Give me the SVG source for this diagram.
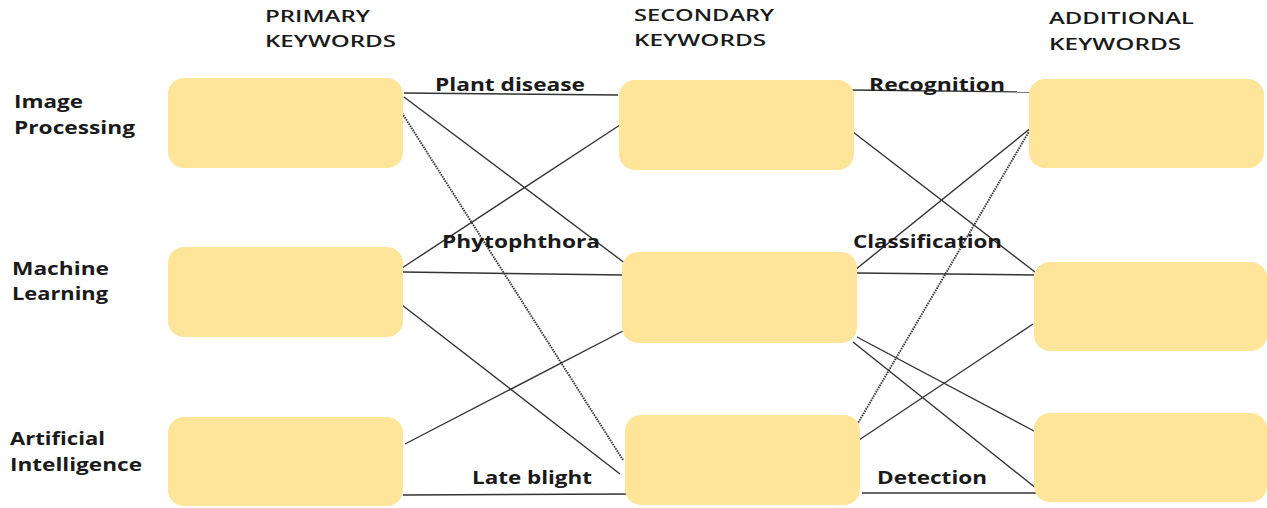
<svg xmlns="http://www.w3.org/2000/svg" width="1267" height="508" viewBox="0 0 1267 508">
<style>
.box{fill:#FFE599;stroke:none}
.ln{stroke:#333333;stroke-width:1.4;fill:none}
.dot{stroke:#333333;stroke-width:1.9;stroke-dasharray:1.5 1;fill:none}
.t{font-family:"Open Sans","Liberation Sans",sans-serif;font-weight:700;font-size:17px;fill:#1a1a1a}
.h{font-family:"Open Sans","Liberation Sans",sans-serif;font-weight:600;font-size:17px;fill:#1a1a1a}
</style>
<rect width="1267" height="508" fill="#ffffff"/>
<g id="headers">
<text class="h" x="265" y="22" textLength="105" lengthAdjust="spacingAndGlyphs">PRIMARY</text>
<text class="h" x="265" y="47" textLength="131" lengthAdjust="spacingAndGlyphs">KEYWORDS</text>
<text class="h" x="634" y="21" textLength="140" lengthAdjust="spacingAndGlyphs">SECONDARY</text>
<text class="h" x="634" y="46" textLength="132" lengthAdjust="spacingAndGlyphs">KEYWORDS</text>
<text class="h" x="1049" y="24" textLength="145" lengthAdjust="spacingAndGlyphs">ADDITIONAL</text>
<text class="h" x="1049" y="50" textLength="132" lengthAdjust="spacingAndGlyphs">KEYWORDS</text>
</g>
<g id="connectors">
<line class="ln" x1="404" y1="93" x2="618" y2="95"/>
<line class="ln" x1="404" y1="97" x2="630" y2="267"/>
<line class="dot" x1="402" y1="113" x2="623" y2="460"/>
<line class="ln" x1="402" y1="268" x2="623" y2="123"/>
<line class="ln" x1="403" y1="272" x2="623" y2="275"/>
<line class="ln" x1="402" y1="305" x2="620" y2="474"/>
<line class="ln" x1="405" y1="444" x2="623" y2="331"/>
<line class="ln" x1="403" y1="495" x2="632" y2="494"/>
<line class="ln" x1="850" y1="90" x2="1030" y2="92"/>
<line class="ln" x1="853" y1="132" x2="1035" y2="272"/>
<line class="ln" x1="1032" y1="127" x2="855" y2="270"/>
<line class="dot" x1="1031" y1="128" x2="858" y2="423"/>
<line class="ln" x1="857" y1="273" x2="1034" y2="275"/>
<line class="ln" x1="857" y1="337" x2="1034" y2="431"/>
<line class="ln" x1="853" y1="342" x2="1037" y2="489"/>
<line class="ln" x1="856" y1="442" x2="1033" y2="324"/>
<line class="ln" x1="862" y1="493" x2="1037" y2="493"/>
<text class="t" x="435" y="91" textLength="150" lengthAdjust="spacingAndGlyphs">Plant disease</text>
<text class="t" x="442" y="248" textLength="158" lengthAdjust="spacingAndGlyphs">Phytophthora</text>
<text class="t" x="472" y="484" textLength="120" lengthAdjust="spacingAndGlyphs">Late blight</text>
<text class="t" x="869" y="91" textLength="136" lengthAdjust="spacingAndGlyphs">Recognition</text>
<text class="t" x="853" y="248" textLength="149" lengthAdjust="spacingAndGlyphs">Classification</text>
<text class="t" x="877" y="484" textLength="110" lengthAdjust="spacingAndGlyphs">Detection</text>
</g>
<g id="primary-1">
<rect class="box" x="168" y="78" width="235" height="90" rx="16"/>
<text class="t" x="14" y="108" textLength="69" lengthAdjust="spacingAndGlyphs">Image</text>
<text class="t" x="14" y="134" textLength="121" lengthAdjust="spacingAndGlyphs">Processing</text>
</g>
<g id="primary-2">
<rect class="box" x="168" y="247" width="235" height="90" rx="16"/>
<text class="t" x="12" y="275" textLength="97" lengthAdjust="spacingAndGlyphs">Machine</text>
<text class="t" x="12" y="300" textLength="96" lengthAdjust="spacingAndGlyphs">Learning</text>
</g>
<g id="primary-3">
<rect class="box" x="168" y="417" width="235" height="89" rx="16"/>
<text class="t" x="10" y="445" textLength="95" lengthAdjust="spacingAndGlyphs">Artificial</text>
<text class="t" x="10" y="471" textLength="132" lengthAdjust="spacingAndGlyphs">Intelligence</text>
</g>
<g id="secondary-1"><rect class="box" x="619" y="80" width="235" height="90" rx="16"/></g>
<g id="secondary-2"><rect class="box" x="622" y="252" width="235" height="91" rx="16"/></g>
<g id="secondary-3"><rect class="box" x="625" y="415" width="235" height="90" rx="16"/></g>
<g id="additional-1"><rect class="box" x="1029" y="79" width="235" height="89" rx="16"/></g>
<g id="additional-2"><rect class="box" x="1034" y="262" width="233" height="89" rx="16"/></g>
<g id="additional-3"><rect class="box" x="1034" y="413" width="233" height="89" rx="16"/></g>
</svg>
